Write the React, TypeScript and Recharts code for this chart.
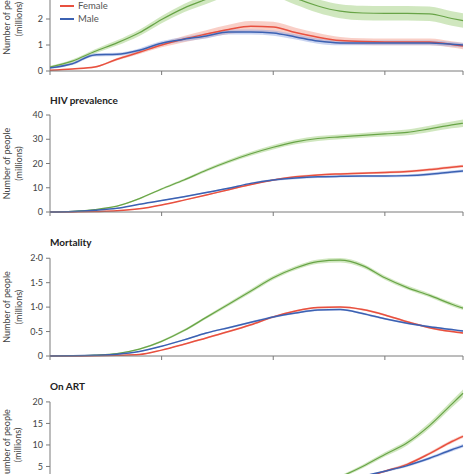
import React from "react";
import {
  ComposedChart,
  Line,
  Area,
  XAxis,
  YAxis,
  ReferenceLine,
  Label,
} from "recharts";

// years sampled every 2 years, plus the last year
const years = [
  1980, 1982, 1984, 1986, 1988, 1990, 1992, 1994, 1996, 1998, 2000, 2002,
  2004, 2006, 2008, 2010, 2012, 2014, 2016, 2017,
];
const xTicks = [1980, 1990, 2000, 2010, 2017];

// incidence (top panel, cropped)
const incTotal = [0.15, 0.38, 0.75, 1.08, 1.47, 1.98, 2.42, 2.76, 3.08, 3.2, 3.12, 2.8, 2.5, 2.3, 2.23, 2.22, 2.22, 2.2, 2.02, 1.94];
const incFemale = [0.03, 0.08, 0.15, 0.45, 0.72, 1.0, 1.23, 1.42, 1.6, 1.72, 1.69, 1.48, 1.3, 1.17, 1.13, 1.12, 1.12, 1.12, 1.02, 0.96];
const incMale = [0.12, 0.28, 0.62, 0.64, 0.8, 1.07, 1.22, 1.35, 1.5, 1.5, 1.46, 1.31, 1.15, 1.08, 1.08, 1.08, 1.08, 1.08, 1.03, 1.0];
const incTotalCi = [0.05, 0.06, 0.08, 0.1, 0.12, 0.14, 0.16, 0.18, 0.2, 0.22, 0.24, 0.25, 0.26, 0.27, 0.28, 0.28, 0.28, 0.28, 0.28, 0.28];
const incFemaleCi = [0.01, 0.02, 0.03, 0.05, 0.07, 0.09, 0.12, 0.15, 0.18, 0.2, 0.2, 0.18, 0.16, 0.14, 0.13, 0.13, 0.13, 0.13, 0.12, 0.12];
const incMaleCi = [0.04, 0.05, 0.06, 0.06, 0.07, 0.08, 0.09, 0.1, 0.1, 0.1, 0.1, 0.1, 0.1, 0.09, 0.09, 0.09, 0.09, 0.09, 0.09, 0.09];

// HIV prevalence
const prevTotal = [0, 0.3, 1.0, 2.4, 5.5, 9.5, 13.2, 17.2, 20.8, 24.0, 26.7, 28.9, 30.3, 31.0, 31.6, 32.2, 32.8, 34.3, 35.9, 36.6];
const prevFemale = [0, 0.05, 0.2, 0.5, 1.3, 2.9, 4.9, 7.0, 9.2, 11.3, 13.2, 14.5, 15.3, 15.7, 16.0, 16.3, 16.7, 17.5, 18.5, 18.9];
const prevMale = [0, 0.2, 0.7, 1.5, 3.2, 4.7, 6.3, 8.0, 9.8, 11.8, 13.2, 14.0, 14.5, 14.7, 14.8, 14.8, 15.0, 15.6, 16.5, 16.9];
const prevTotalCi = [0, 0.05, 0.1, 0.2, 0.3, 0.4, 0.5, 0.6, 0.7, 0.8, 0.9, 1.0, 1.0, 1.0, 1.0, 1.1, 1.2, 1.3, 1.4, 1.5];
const prevFemaleCi = [0, 0.02, 0.05, 0.08, 0.1, 0.15, 0.2, 0.25, 0.3, 0.3, 0.35, 0.4, 0.4, 0.4, 0.45, 0.5, 0.5, 0.55, 0.6, 0.6];
const prevMaleCi = [0, 0.03, 0.06, 0.1, 0.15, 0.2, 0.25, 0.3, 0.35, 0.4, 0.4, 0.45, 0.45, 0.5, 0.5, 0.5, 0.55, 0.6, 0.6, 0.6];

// mortality
const mortTotal = [0, 0.005, 0.02, 0.05, 0.14, 0.3, 0.52, 0.79, 1.06, 1.33, 1.6, 1.8, 1.93, 1.96, 1.85, 1.6, 1.4, 1.24, 1.06, 0.98];
const mortFemale = [0, 0, 0.005, 0.015, 0.03, 0.12, 0.24, 0.37, 0.5, 0.64, 0.8, 0.92, 0.99, 1.0, 0.95, 0.84, 0.7, 0.58, 0.5, 0.47];
const mortMale = [0, 0.005, 0.015, 0.035, 0.09, 0.2, 0.33, 0.47, 0.58, 0.69, 0.8, 0.88, 0.94, 0.95, 0.87, 0.76, 0.67, 0.6, 0.54, 0.51];
const mortTotalCi = [0, 0.002, 0.005, 0.01, 0.015, 0.02, 0.025, 0.03, 0.035, 0.04, 0.04, 0.04, 0.045, 0.045, 0.045, 0.04, 0.04, 0.04, 0.04, 0.04];
const mortFemaleCi = [0, 0, 0.002, 0.005, 0.008, 0.01, 0.012, 0.015, 0.018, 0.02, 0.02, 0.02, 0.02, 0.02, 0.02, 0.02, 0.02, 0.02, 0.02, 0.02];
const mortMaleCi = [0, 0.001, 0.003, 0.005, 0.008, 0.01, 0.012, 0.015, 0.018, 0.02, 0.02, 0.02, 0.02, 0.02, 0.02, 0.02, 0.02, 0.02, 0.02, 0.02];

// on ART
const artTotal = [0, 0, 0, 0, 0, 0, 0, 0, 0, 0, 0, 0.1, 0.8, 2.6, 5.0, 7.8, 10.5, 14.5, 19.5, 22.0];
const artFemale = [0, 0, 0, 0, 0, 0, 0, 0, 0, 0, 0, 0.05, 0.4, 1.2, 2.3, 3.9, 5.5, 8.0, 10.8, 12.0];
const artMale = [0, 0, 0, 0, 0, 0, 0, 0, 0, 0, 0, 0.05, 0.4, 1.4, 2.7, 3.9, 5.2, 6.9, 8.9, 9.8];
const artTotalCi = [0, 0, 0, 0, 0, 0, 0, 0, 0, 0, 0, 0.05, 0.15, 0.3, 0.4, 0.5, 0.6, 0.7, 0.8, 0.9];
const artFemaleCi = [0, 0, 0, 0, 0, 0, 0, 0, 0, 0, 0, 0.03, 0.1, 0.15, 0.2, 0.25, 0.3, 0.35, 0.4, 0.4];
const artMaleCi = [0, 0, 0, 0, 0, 0, 0, 0, 0, 0, 0, 0.03, 0.1, 0.15, 0.2, 0.25, 0.3, 0.35, 0.4, 0.4];

const GREEN = "#68a447";
const RED = "#e8503f";
const BLUE = "#3b61b2";
const AXIS = "#7a7a7a";
const FONT = "Lato, sans-serif";

type Row = {
  year: number;
  total: number;
  female: number;
  male: number;
  totalBand: [number, number];
  femaleBand: [number, number];
  maleBand: [number, number];
};

function buildRows(t: number[], f: number[], m: number[], tc: number[], fc: number[], mc: number[]): Row[] {
  return years.map((year, i) => ({
    year,
    total: t[i],
    female: f[i],
    male: m[i],
    totalBand: [Math.max(0, t[i] - tc[i]), t[i] + tc[i]],
    femaleBand: [Math.max(0, f[i] - fc[i]), f[i] + fc[i]],
    maleBand: [Math.max(0, m[i] - mc[i]), m[i] + mc[i]],
  }));
}

type PanelProps = {
  rows: Row[];
  top: number;
  plotHeight: number;
  max: number;
  ticks: number[];
  axisTop: number;
  fmt?: (v: number) => string;
};

function Panel({ rows, top, plotHeight, max, ticks, axisTop, fmt }: PanelProps) {
  const height = plotHeight + 20;
  return (
    <div style={{ position: "absolute", left: 0, top }}>
      <ComposedChart
        width={474}
        height={height}
        data={rows}
        margin={{ top: 10, right: 11, bottom: 0, left: 0 }}
      >
        <XAxis
          dataKey="year"
          type="number"
          domain={[1980, 2017]}
          ticks={xTicks}
          tickFormatter={() => ""}
          tickSize={4}
          height={10}
          stroke={AXIS}
          axisLine={{ stroke: AXIS }}
          tickLine={{ stroke: AXIS }}
        />
        <YAxis
          type="number"
          domain={[0, max]}
          ticks={ticks}
          width={50}
          tickSize={4}
          tickMargin={3}
          axisLine={false}
          tickLine={{ stroke: AXIS }}
          tick={{ fontSize: 9, fill: "#444", fontFamily: FONT }}
          tickFormatter={fmt}
          interval={0}
        >
          <Label
            content={(p: any) => {
              const vb = p.viewBox || { y: 0, height: plotHeight };
              const cy = vb.y + vb.height - (vb.height * axisTop) / max / 2;
              return (
                <g fill="#444" fontSize={9} fontFamily={FONT}>
                  <text x={6.5} y={cy} transform={`rotate(-90 6.5 ${cy})`} textAnchor="middle" dominantBaseline="central">
                    Number of people
                  </text>
                  <text x={18} y={cy} transform={`rotate(-90 18 ${cy})`} textAnchor="middle" dominantBaseline="central">
                    (millions)
                  </text>
                </g>
              );
            }}
          />
        </YAxis>
        <ReferenceLine
          segment={[
            { x: 1980, y: 0 },
            { x: 1980, y: axisTop },
          ]}
          stroke={AXIS}
        />
        <Area type="monotone" dataKey="totalBand" stroke="none" fill="#a9d38a" fillOpacity={0.55} isAnimationActive={false} />
        <Area type="monotone" dataKey="femaleBand" stroke="none" fill="#f4a08f" fillOpacity={0.5} isAnimationActive={false} />
        <Area type="monotone" dataKey="maleBand" stroke="none" fill="#93aae3" fillOpacity={0.5} isAnimationActive={false} />
        <Line type="monotone" dataKey="total" stroke={GREEN} strokeWidth={1.2} dot={false} isAnimationActive={false} />
        <Line type="monotone" dataKey="female" stroke={RED} strokeWidth={1.5} dot={false} isAnimationActive={false} />
        <Line type="monotone" dataKey="male" stroke={BLUE} strokeWidth={1.5} dot={false} isAnimationActive={false} />
      </ComposedChart>
    </div>
  );
}

const titleStyle: React.CSSProperties = {
  position: "absolute",
  left: 50,
  fontFamily: FONT,
  fontWeight: 700,
  fontSize: 10,
  lineHeight: "10px",
  color: "#222",
  whiteSpace: "nowrap",
};

const legendText: React.CSSProperties = {
  position: "absolute",
  left: 78,
  fontFamily: FONT,
  fontSize: 9.5,
  lineHeight: "10px",
  color: "#555",
};

const dotFmt = (v: number) => (v === 0 ? "0" : v.toFixed(1).replace(".", "\u00b7"));

export default function App() {
  return (
    <div
      style={{
        position: "fixed",
        left: 0,
        top: 0,
        width: 474,
        height: 474,
        overflow: "hidden",
        background: "#fff",
      }}
    >
      <Panel
        rows={buildRows(incTotal, incFemale, incMale, incTotalCi, incFemaleCi, incMaleCi)}
        top={-43}
        plotHeight={104}
        max={4}
        ticks={[0, 1, 2, 3, 4]}
        axisTop={4}
      />
      <div style={{ position: "absolute", left: 60, top: 5, width: 14, height: 2, background: RED }} />
      <div style={{ ...legendText, top: 1 }}>Female</div>
      <div style={{ position: "absolute", left: 60, top: 18, width: 14, height: 2, background: BLUE }} />
      <div style={{ ...legendText, top: 14 }}>Male</div>

      <div style={{ ...titleStyle, top: 95 }}>HIV prevalence</div>
      <Panel
        rows={buildRows(prevTotal, prevFemale, prevMale, prevTotalCi, prevFemaleCi, prevMaleCi)}
        top={105}
        plotHeight={97}
        max={40}
        ticks={[0, 10, 20, 30, 40]}
        axisTop={40}
      />

      <div style={{ ...titleStyle, top: 237 }}>Mortality</div>
      <Panel
        rows={buildRows(mortTotal, mortFemale, mortMale, mortTotalCi, mortFemaleCi, mortMaleCi)}
        top={248}
        plotHeight={98}
        max={2}
        ticks={[0, 0.5, 1, 1.5, 2]}
        axisTop={2}
        fmt={dotFmt}
      />

      <div style={{ ...titleStyle, top: 381 }}>On ART</div>
      <Panel
        rows={buildRows(artTotal, artFemale, artMale, artTotalCi, artFemaleCi, artMaleCi)}
        top={379}
        plotHeight={99}
        max={23}
        ticks={[0, 5, 10, 15, 20]}
        axisTop={20}
      />
    </div>
  );
}
